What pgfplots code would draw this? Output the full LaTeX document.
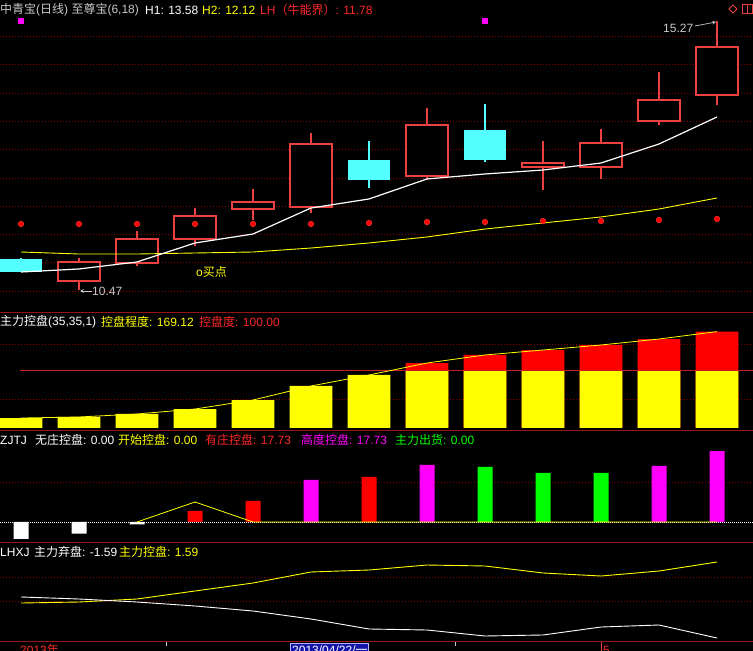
\documentclass[border=0pt]{standalone}
\usepackage{pgfplots}
\pgfplotsset{compat=1.18}
\usepackage{fontspec}
\setmainfont{Liberation Sans}
\newfontfamily\cjk{Noto Sans CJK SC}
\definecolor{cred}{RGB}{235,65,65}
\definecolor{ccyan}{RGB}{84,255,255}
\definecolor{gridred}{RGB}{140,0,0}
\definecolor{sepred}{RGB}{150,20,20}
\definecolor{lvlred}{RGB}{200,30,30}
\definecolor{cyel}{RGB}{255,255,0}
\definecolor{cmag}{RGB}{255,0,255}
\definecolor{cgreen}{RGB}{0,255,0}
\definecolor{txtgray}{RGB}{200,200,200}
\definecolor{txtred}{RGB}{255,40,40}
\definecolor{datebox}{RGB}{20,20,170}

\pgfplotsset{panel/.style={scale only axis, width=753pt, xmin=-0.3621, xmax=12.6207,
  anchor=south west, axis line style={draw=none}, tick style={draw=none},
  xtick=\empty, ytick=\empty},
  bull/.style={draw=cred, fill=black, line width=1.3pt},
  bear/.style={draw=ccyan, fill=ccyan, line width=1.1pt}}
\tikzset{gline/.style={gridred, dash pattern=on 0.8pt off 2.2pt, line width=0.8pt}}

\begin{document}
\begin{tikzpicture}[every node/.style={font=\fontsize{12}{14}\selectfont, inner sep=0pt}]
\fill[black] (0pt,0pt) rectangle (753pt,651pt);
\useasboundingbox (0pt,0pt) rectangle (753pt,651pt);

% ---------- Panel 1: candles ----------
\begin{axis}[panel, at={(0pt,338pt)}, height=313pt, ymin=10.0595, ymax=15.6447]
\pgfplotsinvokeforeach{10.452,10.961,11.469,11.96,12.468,12.977,13.486,13.985,14.494,15.0}{
  \draw[gline] (axis cs:-0.3621,#1) -- (axis cs:12.6207,#1);}
% wicks (low to high)
\addplot[cred, line width=1.3pt, unbounded coords=jump] coordinates {
 (1,10.47) (1,11.041) (1,nan)
 (2,10.898) (2,11.523) (2,nan)
 (3,11.255) (3,11.933) (3,nan)
 (4,11.719) (4,12.272) (4,nan)
 (5,11.844) (5,13.271) (5,nan)
 (7,12.433) (7,13.718) (7,nan)
 (9,12.254) (9,13.129) (9,nan)
 (10,12.451) (10,13.343) (10,nan)
 (11,13.414) (11,14.360) (11,nan)
 (12,13.771) (12,15.27)};
\addplot[ccyan, line width=1.1pt, unbounded coords=jump] coordinates {
 (0,10.791) (0,11.041) (0,nan)
 (6,12.290) (6,13.129) (6,nan)
 (8,12.754) (8,13.789)};
% bodies
\addplot[bear] coordinates {(-0.36,10.809) (0.36,10.809) (0.36,11.005) (-0.36,11.005)} -- cycle;
\addplot[bull] coordinates {(0.64,10.631) (1.36,10.631) (1.36,10.970) (0.64,10.970)} -- cycle;
\addplot[bull] coordinates {(1.64,10.952) (2.36,10.952) (2.36,11.380) (1.64,11.380)} -- cycle;
\addplot[bull] coordinates {(2.64,11.380) (3.36,11.380) (3.36,11.790) (2.64,11.790)} -- cycle;
\addplot[bull] coordinates {(3.64,11.915) (4.36,11.915) (4.36,12.040) (3.64,12.040)} -- cycle;
\addplot[bull] coordinates {(4.64,11.951) (5.36,11.951) (5.36,13.075) (4.64,13.075)} -- cycle;
\addplot[bear] coordinates {(5.64,12.451) (6.36,12.451) (6.36,12.772) (5.64,12.772)} -- cycle;
\addplot[bull] coordinates {(6.64,12.504) (7.36,12.504) (7.36,13.414) (6.64,13.414)} -- cycle;
\addplot[bear] coordinates {(7.64,12.808) (8.36,12.808) (8.36,13.307) (7.64,13.307)} -- cycle;
\addplot[bull] coordinates {(8.64,12.665) (9.36,12.665) (9.36,12.736) (8.64,12.736)} -- cycle;
\addplot[bull] coordinates {(9.64,12.665) (10.36,12.665) (10.36,13.093) (9.64,13.093)} -- cycle;
\addplot[bull] coordinates {(10.64,13.486) (11.36,13.486) (11.36,13.860) (10.64,13.860)} -- cycle;
\addplot[bull] coordinates {(11.64,13.950) (12.36,13.950) (12.36,14.806) (11.64,14.806)} -- cycle;
% H2 yellow line
\addplot[cyel, line width=0.9pt] coordinates {(0,11.148) (1,11.112) (2,11.112) (3,11.130) (4,11.148) (5,11.219) (6,11.309) (7,11.416) (8,11.558) (9,11.666) (10,11.773) (11,11.915) (12,12.112)};
% H1 white line
\addplot[white, line width=1.2pt] coordinates {(0,10.791) (1,10.845) (2,10.970) (3,11.309) (4,11.469) (5,11.933) (6,12.094) (7,12.451) (8,12.540) (9,12.611) (10,12.736) (11,13.075) (12,13.557)};
% red dots
\addplot[only marks, mark=*, mark size=2.8pt, mark options={fill=red, draw=red!75!white}] coordinates {(0,11.648) (1,11.648) (2,11.648) (3,11.648) (4,11.648) (5,11.648) (6,11.666) (7,11.683) (8,11.683) (9,11.701) (10,11.701) (11,11.719) (12,11.737)};
% magenta markers
\addplot[only marks, mark=square*, mark size=2.4pt, mark options={fill=cmag, draw=cmag}] coordinates {(0,15.27) (8,15.27)};
\end{axis}

% ---------- Panel 2 ----------
\begin{axis}[panel, at={(0pt,220pt)}, height=118pt, ymin=-5.263, ymax=201.754]
\pgfplotsinvokeforeach{50.9,147.4}{
  \draw[gline] (axis cs:-0.3621,#1) -- (axis cs:12.6207,#1);}
\addplot[ybar, bar shift=0pt, bar width=0.741, fill=red, draw=none] coordinates {(7,114.0) (8,128.1) (9,136.8) (10,145.6) (11,156.1) (12,169.12)};
\addplot[ybar, bar shift=0pt, bar width=0.741, fill=cyel, draw=none] coordinates {(0,17.5) (1,19.3) (2,24.6) (3,33.3) (4,49.1) (5,73.7) (6,93.0) (7,100) (8,100) (9,100) (10,100) (11,100) (12,100)};
\draw[lvlred, line width=1pt] (axis cs:-0.02,100) -- (axis cs:12.7,100);
\addplot[cyel, line width=0.8pt] coordinates {(0,17.5) (1,19.3) (2,24.6) (3,33.3) (4,49.1) (5,73.7) (6,93.0) (7,114.0) (8,128.1) (9,136.8) (10,145.6) (11,156.1) (12,169.12)};
\end{axis}

% ---------- Panel 3 ----------
\begin{axis}[panel, at={(0pt,108pt)}, height=112pt, ymin=-5.25, ymax=22.75]
\draw[gline] (axis cs:-0.3621,10) -- (axis cs:12.6207,10);
\draw[white, dash pattern=on 0.8pt off 1.2pt, line width=0.8pt] (axis cs:-0.3621,0) -- (axis cs:12.6207,0);
\addplot[ybar, bar shift=0pt, bar width=0.2586, fill=white, draw=none] coordinates {(0,-4.2) (1,-2.9) (2,-0.6)};
\addplot[ybar, bar shift=0pt, bar width=0.2586, fill=red, draw=none] coordinates {(3,2.75) (4,5.25) (6,11.25)};
\addplot[ybar, bar shift=0pt, bar width=0.2586, fill=cmag, draw=none] coordinates {(5,10.5) (7,14.25) (11,14.0) (12,17.73)};
\addplot[ybar, bar shift=0pt, bar width=0.2586, fill=cgreen, draw=none] coordinates {(8,13.75) (9,12.25) (10,12.25)};
\addplot[cyel, line width=0.8pt] coordinates {(2,0) (3,5) (4,0) (5,0) (6,0) (7,0) (8,0) (9,0) (10,0) (11,0) (12,0)};
\end{axis}

% ---------- Panel 4 ----------
\begin{axis}[panel, at={(0pt,9pt)}, height=99pt, ymin=-1.757, ymax=2.385]
\pgfplotsinvokeforeach{0.962,-0.042}{
  \draw[gline] (axis cs:-0.3621,#1) -- (axis cs:12.6207,#1);}
\addplot[cyel, line width=0.9pt] coordinates {(0,-0.126) (1,-0.084) (2,0.042) (3,0.377) (4,0.711) (5,1.172) (6,1.255) (7,1.464) (8,1.423) (9,1.130) (10,1.004) (11,1.213) (12,1.59)};
\addplot[white, line width=0.9pt] coordinates {(0,0.126) (1,0.042) (2,-0.084) (3,-0.251) (4,-0.460) (5,-0.795) (6,-1.213) (7,-1.255) (8,-1.506) (9,-1.464) (10,-1.130) (11,-1.046) (12,-1.59)};
\end{axis}

% separator lines
\foreach \yy in {338,220,108,9} {\draw[sepred, line width=1pt] (0pt,\yy pt) -- (753pt,\yy pt);}

% ---------- Texts ----------
\node[anchor=west, text=txtgray] at (0pt,641pt) {{\cjk 中青宝}({\cjk 日线}) {\cjk 至尊宝}(6,18)};
\node[anchor=west, text=white] at (145pt,641pt) {H1: 13.58};
\node[anchor=west, text=cyel] at (202pt,641pt) {H2: 12.12};
\node[anchor=west, text=txtred] at (260pt,641pt) {LH{\cjk （牛能界）}: 11.78};
% icons top-right
\draw[cred, line width=0.8pt] (733pt,646pt) -- (737pt,642pt) -- (733pt,638pt) -- (729pt,642pt) -- cycle;
\draw[cred, line width=0.8pt] (742pt,638pt) rectangle (752pt,647pt);
\draw[cred, line width=0.8pt] (747pt,638pt) -- (747pt,647pt);
% 15.27 label
\node[anchor=west, text=txtgray] at (663pt,623pt) {15.27};
\draw[txtgray, ->, >=stealth, line width=0.7pt] (695pt,625pt) -- (716pt,629pt);
% 10.47 label
\draw[txtgray, ->, >=stealth, line width=0.7pt] (92pt,360pt) -- (80pt,360pt);
\node[anchor=west, text=txtgray] at (92pt,360pt) {10.47};
% buy point
\node[anchor=west, text=cyel] at (196pt,379pt) {o{\cjk 买点}};

\node[anchor=west, text=white] at (0pt,329pt) {{\cjk 主力控盘}(35,35,1)};
\node[anchor=west, text=cyel] at (101pt,329pt) {{\cjk 控盘程度}: 169.12};
\node[anchor=west, text=txtred] at (199pt,329pt) {{\cjk 控盘度}: 100.00};

\node[anchor=west, text=white] at (0pt,211pt) {ZJTJ};
\node[anchor=west, text=white] at (35pt,211pt) {{\cjk 无庄控盘}: 0.00};
\node[anchor=west, text=cyel] at (118pt,211pt) {{\cjk 开始控盘}: 0.00};
\node[anchor=west, text=txtred] at (205pt,211pt) {{\cjk 有庄控盘}: 17.73};
\node[anchor=west, text=cmag] at (301pt,211pt) {{\cjk 高度控盘}: 17.73};
\node[anchor=west, text=cgreen] at (395pt,211pt) {{\cjk 主力出货}: 0.00};

\node[anchor=west, text=white] at (0pt,99pt) {LHXJ};
\node[anchor=west, text=white] at (34pt,99pt) {{\cjk 主力弃盘}: -1.59};
\node[anchor=west, text=cyel] at (119pt,99pt) {{\cjk 主力控盘}: 1.59};

% bottom axis labels
\draw[txtgray, line width=0.7pt] (166pt,9pt) -- (166pt,5pt);
\draw[txtgray, line width=0.7pt] (455pt,9pt) -- (455pt,5pt);
\draw[cred, line width=0.8pt] (601pt,9pt) -- (601pt,0pt);
\node[anchor=west, text=txtred] at (20pt,1pt) {2013{\cjk 年}};
\draw[fill=datebox, draw=white!70!blue, line width=0.6pt] (290pt,-3pt) rectangle (368pt,8pt);
\node[anchor=west, text=white] at (292pt,1pt) {2013/04/22/{\cjk 一}};
\node[anchor=west, text=txtred] at (603pt,1pt) {5};
\end{tikzpicture}
\end{document}
